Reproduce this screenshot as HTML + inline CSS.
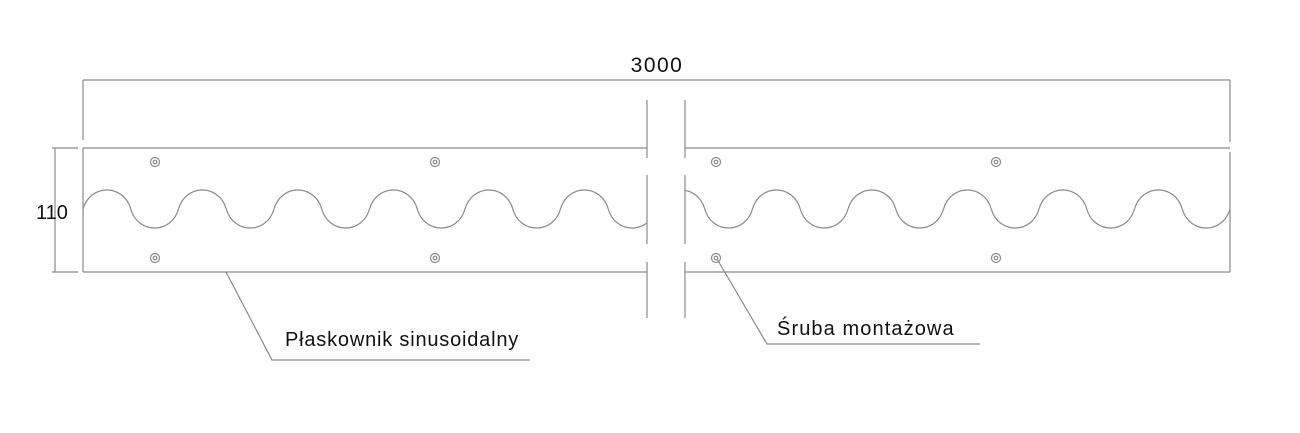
<!DOCTYPE html>
<html><head><meta charset="utf-8"><style>
html,body{margin:0;padding:0;background:#fff;}
svg{display:block;}
text{font-family:"Liberation Sans",sans-serif;fill:#111;}
</style></head><body>
<svg width="1300" height="433" viewBox="0 0 1300 433" xmlns="http://www.w3.org/2000/svg">
<defs>
<clipPath id="cl"><rect x="83" y="150" width="564" height="120"/></clipPath>
<clipPath id="cr"><rect x="685" y="150" width="545" height="120"/></clipPath>
</defs>
<g stroke="#8a8a8a" stroke-width="1.2" fill="none">
<line x1="83" y1="80" x2="1230" y2="80"/>
<line x1="83" y1="80" x2="83" y2="140"/>
<line x1="1230" y1="80" x2="1230" y2="142"/>
<line x1="55" y1="148" x2="55" y2="272"/>
<line x1="52" y1="148" x2="78" y2="148"/>
<line x1="52" y1="272" x2="78" y2="272"/>
<line x1="83" y1="148" x2="647" y2="148"/>
<line x1="83" y1="272" x2="647" y2="272"/>
<line x1="83" y1="148" x2="83" y2="272"/>
<line x1="685" y1="148" x2="1230" y2="148"/>
<line x1="685" y1="272" x2="1230" y2="272"/>
<line x1="1230" y1="152" x2="1230" y2="272"/>
<path d="M647 100V158M647 175V244M647 262V318M685 100V158M685 175V244M685 262V318"/>
<path clip-path="url(#cl)" d="M83 209 c7.16 -25.33 40.59 -25.33 47.75 0 s40.59 25.33 47.75 0 s40.59 -25.33 47.75 0 s40.59 25.33 47.75 0 s40.59 -25.33 47.75 0 s40.59 25.33 47.75 0 s40.59 -25.33 47.75 0 s40.59 25.33 47.75 0 s40.59 -25.33 47.75 0 s40.59 25.33 47.75 0 s40.59 -25.33 47.75 0 s40.59 25.33 47.75 0 s40.59 -25.33 47.75 0"/>
<path clip-path="url(#cr)" d="M657 209 c7.16 -25.33 40.59 -25.33 47.75 0 s40.59 25.33 47.75 0 s40.59 -25.33 47.75 0 s40.59 25.33 47.75 0 s40.59 -25.33 47.75 0 s40.59 25.33 47.75 0 s40.59 -25.33 47.75 0 s40.59 25.33 47.75 0 s40.59 -25.33 47.75 0 s40.59 25.33 47.75 0 s40.59 -25.33 47.75 0 s40.59 25.33 47.75 0 s40.59 -25.33 47.75 0"/>
<g>
<circle cx="155" cy="162" r="4.5"/><circle cx="155" cy="162" r="1.8"/>
<circle cx="435" cy="162" r="4.5"/><circle cx="435" cy="162" r="1.8"/>
<circle cx="716" cy="162" r="4.5"/><circle cx="716" cy="162" r="1.8"/>
<circle cx="996" cy="162" r="4.5"/><circle cx="996" cy="162" r="1.8"/>
<circle cx="155" cy="258" r="4.5"/><circle cx="155" cy="258" r="1.8"/>
<circle cx="435" cy="258" r="4.5"/><circle cx="435" cy="258" r="1.8"/>
<circle cx="716" cy="258" r="4.5"/><circle cx="716" cy="258" r="1.8"/>
<circle cx="996" cy="258" r="4.5"/><circle cx="996" cy="258" r="1.8"/>
</g>
<polyline points="226,272 272,360 530,360"/>
<polyline points="717,259 767,344 980,344"/>
</g>
<text x="657" y="72" font-size="21" letter-spacing="1.5" text-anchor="middle">3000</text>
<text x="52" y="219" font-size="20" text-anchor="middle">110</text>
<text x="285" y="346" font-size="20" letter-spacing="0.8">Płaskownik sinusoidalny</text>
<text x="777" y="335" font-size="20" letter-spacing="1.1">Śruba montażowa</text>
</svg>
</body></html>
